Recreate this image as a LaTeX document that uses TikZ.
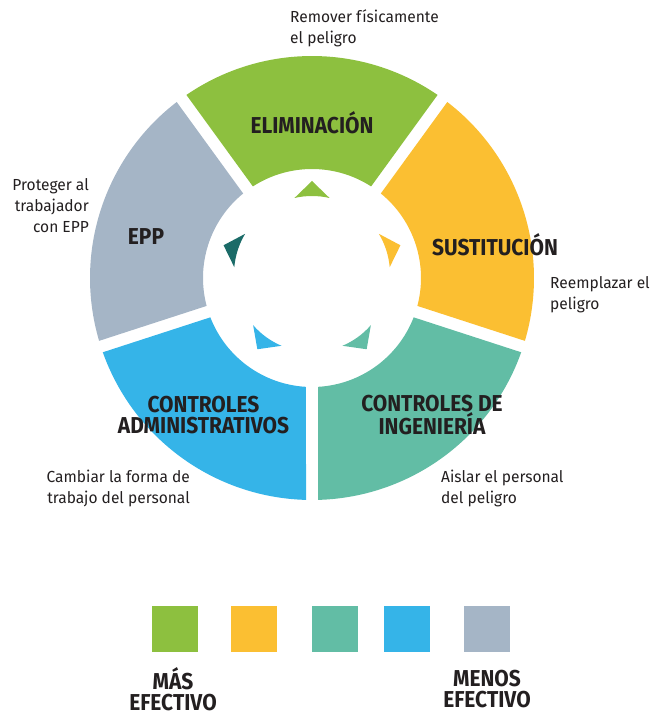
\documentclass[tikz,border=0pt]{standalone}
\usepackage{fontspec}
\setmainfont{Fira Sans}[FakeStretch=0.97]
\newfontfamily\labfont{Fira Sans}[FakeStretch=0.91]
\definecolor{cgreen}{HTML}{8DC03F}
\definecolor{cyellow}{HTML}{FBBF32}
\definecolor{cteal}{HTML}{62BDA5}
\definecolor{cblue}{HTML}{35B4E8}
\definecolor{cgray}{HTML}{A5B5C6}
\definecolor{cdark}{HTML}{1B6B68}
\definecolor{ctext}{HTML}{231F20}
\newcommand\donutseg[3]{%
  \fill[#3] ({#1+1.55}:222pt) arc[start angle={#1+1.55}, end angle={#2-1.55}, radius=222pt]
    -- ({#2-3.16}:109pt) arc[start angle={#2-3.16}, end angle={#1+3.16}, radius=109pt] -- cycle;}
\newcommand\marker[2]{%
  \fill[#2] (#1:93pt) -- ({#1+13}:78pt) arc[start angle={#1+13}, end angle={#1-13}, radius=78pt] -- cycle;}
\tikzset{
  lab/.style={text=ctext, inner sep=0pt, align=center, font=\labfont\bfseries\fontsize{23}{21}\selectfont},
  note/.style={text=ctext, inner sep=0pt, font=\fontsize{16}{21}\selectfont},
  legbox/.style={minimum size=46pt, inner sep=0pt, anchor=north west}
}
\begin{document}
\begin{tikzpicture}[x=1pt,y=1pt]
\useasboundingbox (0,0) rectangle (652,716);
% donut segments
\begin{scope}[shift={(312,438)}]
  \donutseg{54}{126}{cgreen}
  \donutseg{-18}{54}{cyellow}
  \donutseg{-90}{-18}{cteal}
  \donutseg{198}{270}{cblue}
  \donutseg{126}{198}{cgray}
\end{scope}
% inner markers
\begin{scope}[shift={(312,442)}]
  \marker{90}{cgreen}
  \marker{18}{cyellow}
  \marker{-54}{cteal}
  \marker{234}{cblue}
  \marker{162}{cdark}
\end{scope}
% segment labels
\node[lab] (elim) at (312,593) {ELIMINACIÓN};
\node[lab] (sust) at (495,471) {SUSTITUCIÓN};
\node[lab] (inge) at (432,301) {CONTROLES DE\\INGENIERÍA};
\node[lab] (admin) at (203.5,301) {CONTROLES\\ADMINISTRATIVOS};
\node[lab] (epp) at (146,479) {EPP};
% notes
\node[note, anchor=west, align=left] (n1) at (290,688) {Remover físicamente\\el peligro};
\node[note, anchor=west, align=left] (n2) at (550,421) {Reemplazar el\\peligro};
\node[note, anchor=west, align=left] (n3) at (441,228) {Aislar el personal\\del peligro};
\node[note, anchor=east, align=right] (n4) at (190,228) {Cambiar la forma de\\trabajo del personal};
\node[note, anchor=east, align=right] (n5) at (89,510) {Proteger al\\trabajador\\con EPP};
% legend
\node[legbox, fill=cgreen] (l1) at (152,110) {};
\node[legbox, fill=cyellow] (l2) at (231,110) {};
\node[legbox, fill=cteal] (l3) at (312,110) {};
\node[legbox, fill=cblue] (l4) at (384,110) {};
\node[legbox, fill=cgray] (l5) at (464,110) {};
\node[lab] (mas) at (173,26.5) {MÁS\\EFECTIVO};
\node[lab] (menos) at (487,26.5) {MENOS\\EFECTIVO};
\end{tikzpicture}
\end{document}
